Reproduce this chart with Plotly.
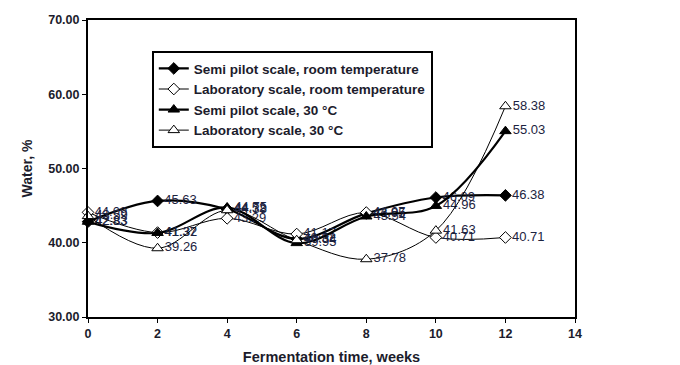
import plotly.graph_objects as go

weeks = [0, 2, 4, 6, 8, 10, 12]
semi_rt = [42.83, 45.63, 44.52, 40.52, 43.95, 46.09, 46.38]
lab_rt = [44.09, 41.37, 43.29, 41.17, 44.07, 40.71, 40.71]
semi_30 = [42.83, 41.32, 44.75, 39.95, 43.54, 44.96, 55.03]
lab_30 = [43.59, 39.26, 44.38, 40.34, 37.78, 41.63, 58.38]

names = ["Semi pilot scale, room temperature", "Laboratory scale, room temperature",
         "Semi pilot scale, 30 °C", "Laboratory scale, 30 °C"]
series = [semi_rt, lab_rt, semi_30, lab_30]
symbols = ["diamond", "diamond", "triangle-up", "triangle-up"]
fills = ["black", "white", "black", "white"]
widths = [2.2, 1, 2.2, 1]
sizes = [9, 9, 10, 10]

fig = go.Figure()
for i, (name, vals, sym, fc, w, s) in enumerate(zip(names, series, symbols, fills, widths, sizes)):
    fig.add_trace(go.Scatter(
        x=weeks, y=vals, name=f"<b>{name}</b>", mode="lines+markers+text",
        legendgroup=f"g{i}",
        line=dict(color="black", width=w, shape="spline", smoothing=1.0),
        marker=dict(symbol=sym, size=s, color=fc, line=dict(color="black", width=1)),
        text=[f"{v:.2f}" for v in vals], textposition="middle right",
        textfont=dict(family="Arial, Liberation Sans", size=13, color="#1c2340"),
        cliponaxis=False,
    ))

fig.update_layout(
    width=680, height=365,
    margin=dict(l=80, r=113, t=12, b=56),
    plot_bgcolor="white", paper_bgcolor="white",
    font=dict(family="Arial, Liberation Sans", color="#1c1c2c"),
    showlegend=True,
    legend=dict(x=0.131, y=0.895, xanchor="left", yanchor="top",
                bgcolor="white", bordercolor="black", borderwidth=2,
                font=dict(size=13.5, family="Arial, Liberation Sans", color="#1c1c2c"),
                tracegroupgap=0, itemwidth=30),
    xaxis=dict(range=[0, 14], tickvals=[0, 2, 4, 6, 8, 10, 12, 14],
               ticktext=[f"<b>{t}</b>" for t in [0, 2, 4, 6, 8, 10, 12, 14]],
               showgrid=False, zeroline=False, showline=True, linecolor="black", linewidth=2,
               mirror=True, ticks="outside", ticklen=4, tickcolor="black", automargin=False,
               tickfont=dict(size=12.5),
               title=dict(text="<b>Fermentation time, weeks</b>", font=dict(size=14.5), standoff=12)),
    yaxis=dict(range=[30, 70], tickvals=[30, 40, 50, 60, 70],
               ticktext=["<b>30.00</b>", "<b>40.00</b>", "<b>50.00</b>", "<b>60.00</b>", "<b>70.00</b>"],
               showgrid=False, zeroline=False, showline=True, linecolor="black", linewidth=2,
               mirror=True, ticks="outside", ticklen=4, tickcolor="black", automargin=False,
               tickfont=dict(size=12.5),
               title=dict(text="<b>Water, %</b>", font=dict(size=14), standoff=12)),
)

fig.write_html("out.html")
